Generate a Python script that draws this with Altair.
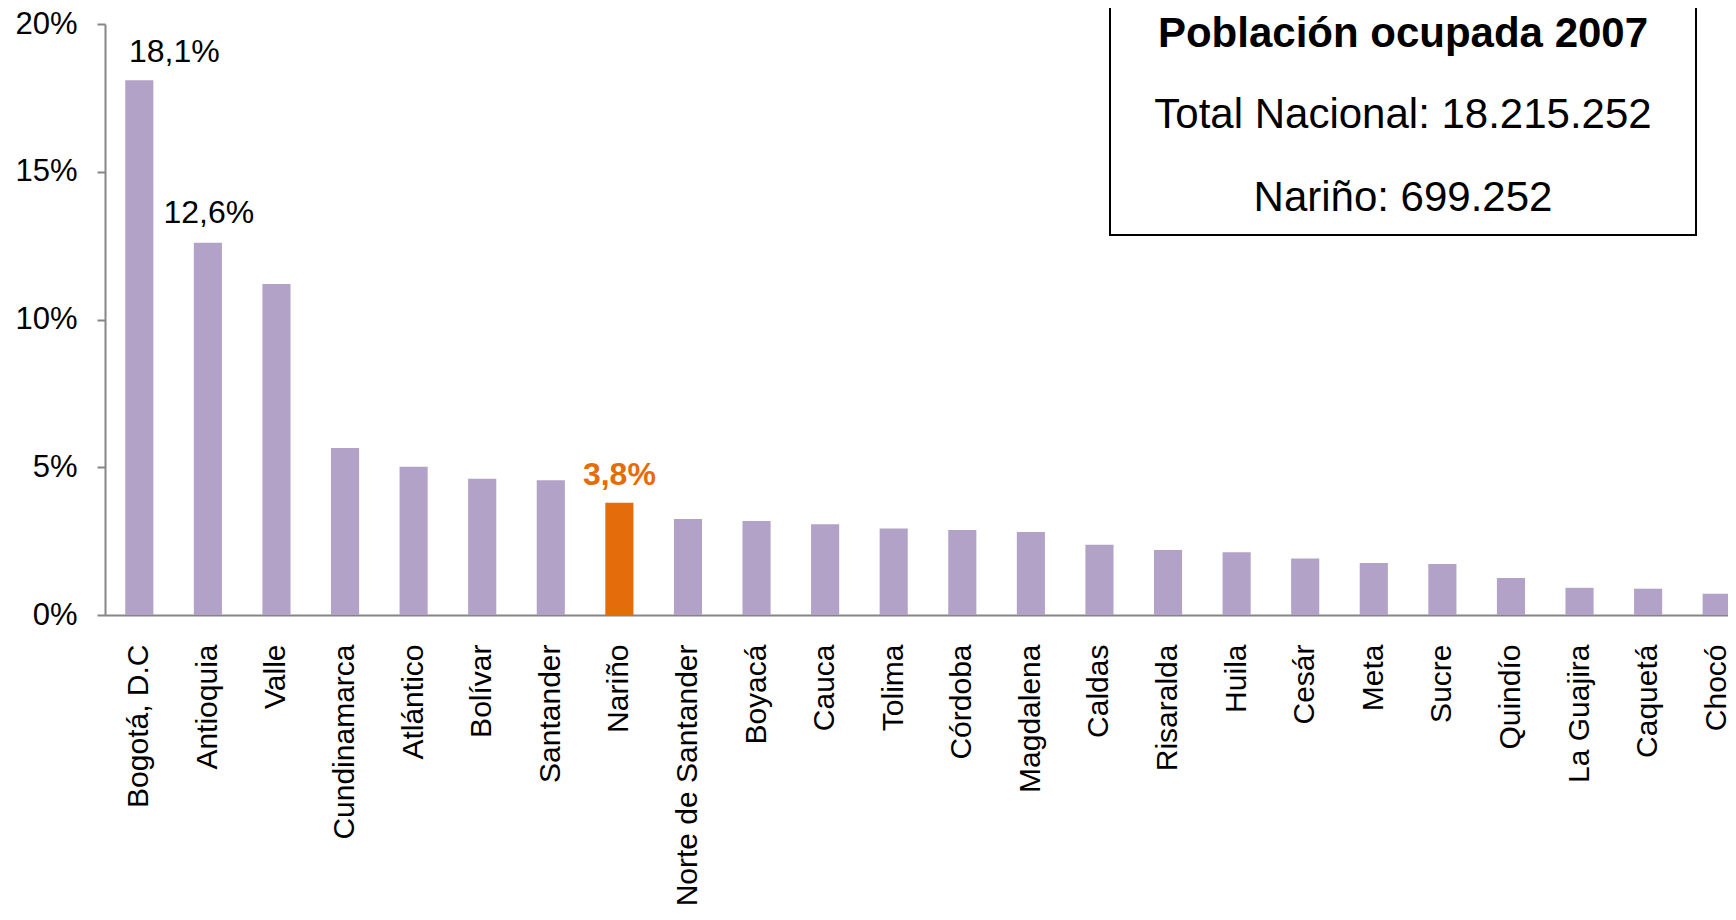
import altair as alt
import pandas as pd

categorias = ["Bogotá, D.C", "Antioquia", "Valle", "Cundinamarca", "Atlántico", "Bolívar",
              "Santander", "Nariño", "Norte de Santander", "Boyacá", "Cauca", "Tolima",
              "Córdoba", "Magdalena", "Caldas", "Risaralda", "Huila", "Cesár", "Meta",
              "Sucre", "Quindío", "La Guajira", "Caquetá", "Chocó"]
valores = [18.1, 12.6, 11.2, 5.65, 5.02, 4.61, 4.56, 3.8, 3.25, 3.18, 3.07, 2.93,
           2.88, 2.81, 2.38, 2.20, 2.12, 1.91, 1.76, 1.73, 1.25, 0.92, 0.89, 0.72]
etiquetas = {"Bogotá, D.C": "18,1%", "Antioquia": "12,6%", "Nariño": "3,8%"}
destacado = "Nariño"
caja_lineas = ["Población ocupada 2007", "Total Nacional: 18.215.252", "Nariño: 699.252"]
y_ticks = [0, 0.05, 0.10, 0.15, 0.20]

df = pd.DataFrame({
    "dep": categorias,
    "v": [x / 100 for x in valores],
    "etiqueta": [etiquetas.get(c, "") for c in categorias],
    "destacado": [c == destacado for c in categorias],
})

FONT = "Liberation Sans"
PURPLE = "#B2A2C7"
ORANGE = "#E46C0A"
GREY = "#868686"

x_enc = alt.X("dep:N", sort=categorias, title=None,
              scale=alt.Scale(range=[0, 1646], paddingInner=0.59, paddingOuter=0.295),
              axis=alt.Axis(labelAngle=-90, ticks=False, tickSize=0, labelPadding=29,
                            labelFontSize=30, labelFont=FONT, labelColor="black",
                            labelLimit=600, labelOverlap=False, domainColor=GREY,
                            domainWidth=2, grid=False))
y_enc = alt.Y("v:Q", title=None,
              scale=alt.Scale(domain=[0, 0.2], nice=False),
              axis=alt.Axis(values=y_ticks, format=".0%", labelFontSize=31, labelFont=FONT,
                            labelColor="black", tickSize=8, tickColor=GREY, tickWidth=2,
                            domainColor=GREY, domainWidth=2, labelPadding=20, grid=False))

base = alt.Chart(df)

bars = base.mark_bar().encode(
    x=x_enc, y=y_enc,
    color=alt.condition("datum.destacado", alt.value(ORANGE), alt.value(PURPLE)),
)

lab_bog = base.transform_filter(alt.datum.dep == categorias[0]).mark_text(
    baseline="alphabetic", dy=-18, dx=35, fontSize=32, font=FONT, color="black"
).encode(x=x_enc, y=y_enc, text="etiqueta:N")

lab_ant = base.transform_filter(alt.datum.dep == categorias[1]).mark_text(
    baseline="alphabetic", dy=-20, dx=1, fontSize=32, font=FONT, color="black"
).encode(x=x_enc, y=y_enc, text="etiqueta:N")

lab_nar = base.transform_filter(alt.datum.dep == destacado).mark_text(
    baseline="alphabetic", dy=-18, fontSize=32, font=FONT, fontWeight="bold", color=ORANGE
).encode(x=x_enc, y=y_enc, text="etiqueta:N")

box_df = pd.DataFrame({"t": caja_lineas})
caja = alt.Chart(pd.DataFrame({"k": [0]})).mark_rect(
    fill="white", stroke="black", strokeWidth=2
).encode(x=alt.value(1005), x2=alt.value(1591), y=alt.value(-60), y2=alt.value(211))

def linea(i, y, bold, size):
    return alt.Chart(box_df.iloc[[i]]).mark_text(
        baseline="alphabetic", align="center", fontSize=size, font=FONT,
        fontWeight="bold" if bold else "normal", color="black"
    ).encode(x=alt.value(1298), y=alt.value(y), text="t:N")

chart = alt.layer(
    bars, lab_bog, lab_ant, lab_nar, caja,
    linea(0, 23, True, 42), linea(1, 104, False, 42), linea(2, 187, False, 42),
).properties(
    width=1623, height=591,
    autosize=alt.AutoSizeParams(type="none"),
    padding={"left": 97, "top": 16, "right": 0, "bottom": 293},
).configure(font=FONT).configure_view(strokeWidth=0, stroke="transparent")

chart.save("out.html", embed_options={"renderer": "svg", "actions": False})
